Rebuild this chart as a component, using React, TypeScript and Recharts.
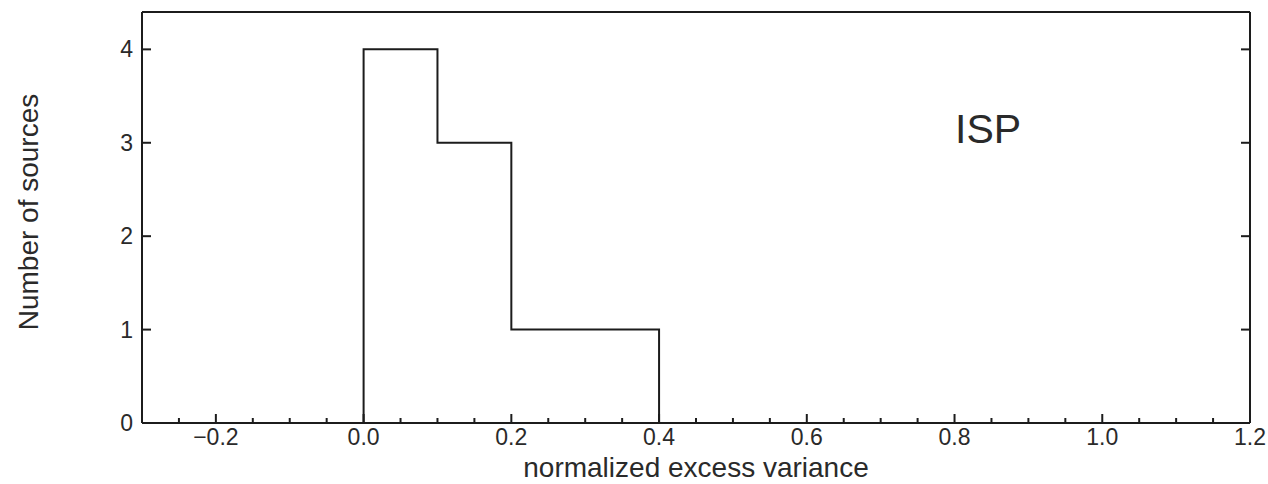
import { ComposedChart, Line, XAxis, YAxis } from 'recharts';

const binEdges = [0, 0, 0.1, 0.2, 0.3, 0.4];
const counts = [0, 4, 3, 1, 1, 0];

const xMajorTicks = [-0.2, 0, 0.2, 0.4, 0.6, 0.8, 1.0, 1.2];
const xAllTicks = [
  -0.25, -0.2, -0.15, -0.1, -0.05, 0, 0.05, 0.1, 0.15, 0.2, 0.25, 0.3, 0.35, 0.4,
  0.45, 0.5, 0.55, 0.6, 0.65, 0.7, 0.75, 0.8, 0.85, 0.9, 0.95, 1.0, 1.05, 1.1,
  1.15, 1.2,
];
const yTicks = [0, 1, 2, 3, 4];

const data = binEdges.map((x, i) => ({ x, count: counts[i] }));

const INK = '#1c1c1c';
const TEXT = '#2a2a2a';
const FONT = '"Liberation Sans", Arial, Helvetica, sans-serif';

const isMajor = (v: number) => xMajorTicks.some((m) => Math.abs(m - v) < 1e-6);
const fmtX = (v: number) => (v < 0 ? `\u2212${Math.abs(v).toFixed(1)}` : v.toFixed(1));

function BottomTick(props: any) {
  const { x, y, payload } = props;
  const major = isMajor(payload.value);
  return (
    <g>
      <line x1={x} x2={x} y1={y} y2={y - (major ? 9 : 5)} stroke={INK} strokeWidth={2} />
      {major && (
        <text x={x} y={y + 22} textAnchor="middle" fontSize={23} fontFamily={FONT} fill={TEXT}>
          {fmtX(payload.value)}
        </text>
      )}
    </g>
  );
}

function LeftTick(props: any) {
  const { x, y, payload } = props;
  return (
    <g>
      <line x1={x} x2={x + 9} y1={y} y2={y} stroke={INK} strokeWidth={2} />
      <text x={x - 9} y={y + 8} textAnchor="end" fontSize={23} fontFamily={FONT} fill={TEXT}>
        {payload.value}
      </text>
    </g>
  );
}

function RightTick(props: any) {
  const { x, y } = props;
  return <line x1={x} x2={x - 9} y1={y} y2={y} stroke={INK} strokeWidth={2} />;
}

export default function App() {
  return (
    <div style={{ position: 'absolute', left: 0, top: 0, background: '#fff' }}>
      <ComposedChart
        width={1268}
        height={484}
        data={data}
        margin={{ top: 11, right: 17, left: 0, bottom: 0 }}
      >
        <XAxis
          xAxisId="bottom"
          dataKey="x"
          type="number"
          domain={[-0.3, 1.2]}
          ticks={xAllTicks}
          interval={0}
          allowDataOverflow
          height={61}
          tickSize={0}
          tickMargin={0}
          tickLine={false}
          axisLine={{ stroke: INK, strokeWidth: 2 }}
          tick={<BottomTick />}
          label={{
            content: () => (
              <text x={696} y={477} textAnchor="middle" fontSize={28} fontFamily={FONT} fill={TEXT}>
                normalized excess variance
              </text>
            ),
          }}
        />
        <XAxis
          xAxisId="top"
          orientation="top"
          dataKey="x"
          type="number"
          domain={[-0.3, 1.2]}
          allowDataOverflow
          height={1}
          tick={false}
          tickLine={false}
          axisLine={{ stroke: INK, strokeWidth: 2 }}
        />
        <YAxis
          yAxisId="left"
          type="number"
          domain={[0, 4.4]}
          ticks={yTicks}
          interval={0}
          allowDataOverflow
          width={142}
          tickSize={0}
          tickMargin={0}
          tickLine={false}
          axisLine={{ stroke: INK, strokeWidth: 2 }}
          tick={<LeftTick />}
          label={{
            content: () => (
              <text
                x={38}
                y={212}
                transform="rotate(-90 38 212)"
                textAnchor="middle"
                fontSize={28}
                fontFamily={FONT}
                fill={TEXT}
              >
                Number of sources
              </text>
            ),
          }}
        />
        <YAxis
          yAxisId="right"
          orientation="right"
          type="number"
          domain={[0, 4.4]}
          ticks={yTicks}
          interval={0}
          allowDataOverflow
          width={1}
          tickSize={0}
          tickMargin={0}
          tickLine={false}
          axisLine={{ stroke: INK, strokeWidth: 2 }}
          tick={<RightTick />}
          label={{
            content: () => (
              <text x={955} y={143} fontSize={41} fontFamily={FONT} fill={TEXT}>
                ISP
              </text>
            ),
          }}
        />
        <Line
          xAxisId="bottom"
          yAxisId="left"
          dataKey="count"
          type="stepAfter"
          stroke={INK}
          strokeWidth={2}
          dot={false}
          activeDot={false}
          isAnimationActive={false}
        />
        <Line
          xAxisId="top"
          yAxisId="right"
          dataKey="count"
          stroke="none"
          dot={false}
          activeDot={false}
          legendType="none"
          isAnimationActive={false}
        />
      </ComposedChart>
    </div>
  );
}
